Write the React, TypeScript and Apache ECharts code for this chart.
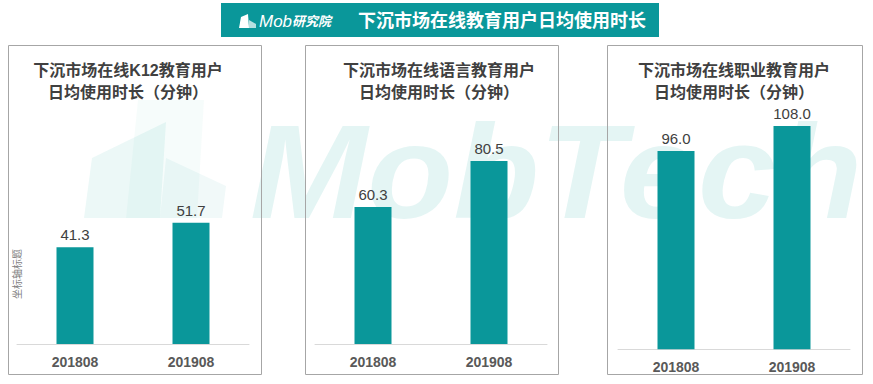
import React, { useEffect, useRef } from 'react';
import * as echarts from 'echarts';

const categories = ['201808', '201908'];
const k12Values = [41.3, 51.7];
const languageValues = [60.3, 80.5];
const vocationalValues = [96.0, 108.0];
const panelTitles = [
  '下沉市场在线K12教育用户\n日均使用时长（分钟）',
  '下沉市场在线语言教育用户\n日均使用时长（分钟）',
  '下沉市场在线职业教育用户\n日均使用时长（分钟）',
];
const yMaxes = [60, 100, 120];
const mainTitle = '下沉市场在线教育用户日均使用时长';
const brandMob = 'Mob';
const brandCn = '研究院';
const yAxisTitle = '坐标轴标题';
const watermark = 'MobTech';

const FONT = '"Liberation Sans", Arial, "Noto Sans CJK SC", sans-serif';
const TEAL = '#0a979a';

const grids = [
  { left: 17, width: 232, top: 203.3, height: 140.7 },
  { left: 315, width: 232, top: 116.7, height: 227.3 },
  { left: 618, width: 232, top: 101.3, height: 248 },
];
const panels = [
  { x: 8.5, w: 253, cx: 128 },
  { x: 305.5, w: 253, cx: 439 },
  { x: 607.5, w: 255, cx: 734 },
];
const seriesData = [k12Values, languageValues, vocationalValues];

export default function App() {
  const ref = useRef<HTMLDivElement>(null);
  useEffect(() => {
    if (!ref.current) return;
    const chart = echarts.init(ref.current, null, { renderer: 'svg' });
    const graphic: any[] = [
      // watermark building logo
      { type: 'polygon', z: 0, shape: { points: [[138, 100], [204, 100], [197, 218], [126, 218]] }, style: { fill: 'rgba(12,160,155,0.035)' } },
      { type: 'polygon', z: 0, shape: { points: [[92, 158], [166, 122], [160, 218], [84, 218]] }, style: { fill: 'rgba(12,160,155,0.08)' } },
      { type: 'polygon', z: 0, shape: { points: [[166, 158], [226, 186], [222, 218], [160, 218]] }, style: { fill: 'rgba(12,160,155,0.06)' } },
      {
        type: 'text', z: 0, x: 250, y: 172, scaleX: 1.05,
        style: { text: watermark, fontSize: 134, fontWeight: 'bold', fontStyle: 'italic', fontFamily: FONT, fill: 'rgba(12,165,155,0.11)', align: 'left', verticalAlign: 'middle' },
      },
      // banner
      { type: 'rect', z: 1, shape: { x: 221, y: 3, width: 438, height: 34 }, style: { fill: TEAL } },
      { type: 'polygon', z: 2, shape: { points: [[239, 28], [241, 17], [248, 14], [249, 28]] }, style: { fill: '#ffffff' } },
      { type: 'polygon', z: 2, shape: { points: [[249, 20], [256, 24], [256, 28], [249, 28]] }, style: { fill: 'rgba(255,255,255,0.7)' } },
      {
        type: 'text', z: 2, x: 259, y: 21,
        style: {
          text: `{a|${brandMob}}{b|${brandCn}}`, verticalAlign: 'middle', align: 'left',
          rich: {
            a: { fontSize: 17, fontStyle: 'italic', fontFamily: FONT, fill: '#ffffff' },
            b: { fontSize: 13, fontStyle: 'italic', fontWeight: 'bold', fontFamily: FONT, fill: '#ffffff' },
          },
        },
      },
      {
        type: 'text', z: 2, x: 502, y: 21,
        style: { text: mainTitle, fontSize: 18, fontWeight: 'bold', fontFamily: FONT, fill: '#ffffff', align: 'center', verticalAlign: 'middle' },
      },
      // y axis title for panel 1
      {
        type: 'text', z: 2, x: 17, y: 274, rotation: Math.PI / 2,
        style: { text: yAxisTitle, fontSize: 10, fontFamily: FONT, fill: '#7f7f7f', align: 'center', verticalAlign: 'middle' },
      },
    ];
    panels.forEach((p, i) => {
      graphic.push({ type: 'rect', z: 1, shape: { x: p.x, y: 45.5, width: p.w, height: 329 }, style: { fill: 'none', stroke: '#a6a6a6', lineWidth: 1 } });
      graphic.push({
        type: 'text', z: 2, x: p.cx, y: 59,
        style: { text: panelTitles[i], fontSize: 16, fontWeight: 'bold', fontFamily: FONT, fill: '#404040', align: 'center', verticalAlign: 'top', lineHeight: 22 },
      });
    });

    chart.setOption({
      animation: false,
      grid: grids.map((g) => ({ ...g, containLabel: false })),
      xAxis: grids.map((_, i) => ({
        type: 'category',
        gridIndex: i,
        data: categories,
        axisTick: { show: false },
        axisLine: { lineStyle: { color: '#d9d9d9' } },
        axisLabel: { fontSize: 14, fontWeight: 'bold', color: '#595959', margin: 11, fontFamily: FONT },
      })),
      yAxis: grids.map((_, i) => ({
        type: 'value',
        gridIndex: i,
        min: 0,
        max: yMaxes[i],
        show: false,
        splitLine: { show: false },
      })),
      series: seriesData.map((d, i) => ({
        type: 'bar',
        xAxisIndex: i,
        yAxisIndex: i,
        data: d,
        barWidth: 37,
        itemStyle: { color: TEAL },
        label: {
          show: true,
          position: 'top',
          distance: 5,
          fontSize: 15,
          color: '#404040',
          fontFamily: FONT,
          formatter: (p: any) => Number(p.value).toFixed(1),
        },
      })),
      graphic,
    });
    return () => chart.dispose();
  }, []);
  return <div ref={ref} style={{ position: 'fixed', left: 0, top: 0, width: 873, height: 384, background: '#ffffff' }} />;
}
